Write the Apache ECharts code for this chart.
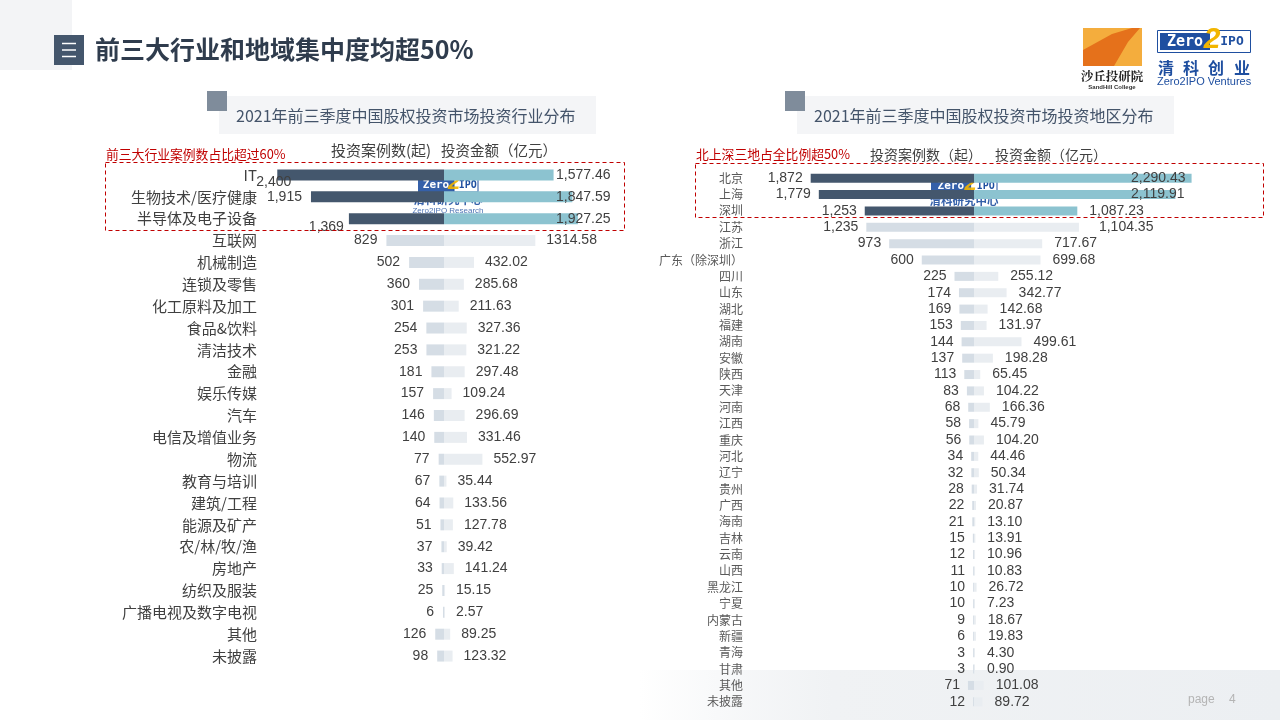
<!DOCTYPE html>
<html>
<head>
<meta charset="utf-8">
<script src="https://cdn.jsdelivr.net/npm/echarts@6/dist/echarts.min.js"></script>
<style>
html, body { margin: 0; padding: 0; background: #fff; }
#main { width: 1280px; height: 720px; }
</style>
</head>
<body>
<div id="main"></div>
<script>
// 行业分布（2021年前三季度）
const industries = ['IT', '生物技术/医疗健康', '半导体及电子设备', '互联网', '机械制造', '连锁及零售',
  '化工原料及加工', '食品&饮料', '清洁技术', '金融', '娱乐传媒', '汽车', '电信及增值业务', '物流',
  '教育与培训', '建筑/工程', '能源及矿产', '农/林/牧/渔', '房地产', '纺织及服装', '广播电视及数字电视',
  '其他', '未披露'];
const industryDeals = [2400, 1915, 1369, 829, 502, 360, 301, 254, 253, 181, 157, 146, 140, 77,
  67, 64, 51, 37, 33, 25, 6, 126, 98];
const industryAmounts = [1577.46, 1847.59, 1927.25, 1314.58, 432.02, 285.68, 211.63, 327.36, 321.22,
  297.48, 109.24, 296.69, 331.46, 552.97, 35.44, 133.56, 127.78, 39.42, 141.24, 15.15, 2.57, 89.25, 123.32];

// 地区分布
const regions = ['北京', '上海', '深圳', '江苏', '浙江', '广东（除深圳）', '四川', '山东', '湖北', '福建',
  '湖南', '安徽', '陕西', '天津', '河南', '江西', '重庆', '河北', '辽宁', '贵州', '广西', '海南', '吉林',
  '云南', '山西', '黑龙江', '宁夏', '内蒙古', '新疆', '青海', '甘肃', '其他', '未披露'];
const regionDeals = [1872, 1779, 1253, 1235, 973, 600, 225, 174, 169, 153, 144, 137, 113, 83, 68, 58,
  56, 34, 32, 28, 22, 21, 15, 12, 11, 10, 10, 9, 6, 3, 3, 71, 12];
const regionAmounts = [2290.43, 2119.91, 1087.23, 1104.35, 717.67, 699.68, 255.12, 342.77, 142.68,
  131.97, 499.61, 198.28, 65.45, 104.22, 166.36, 45.79, 104.20, 44.46, 50.34, 31.74, 20.87, 13.10,
  13.91, 10.96, 10.83, 26.72, 7.23, 18.67, 19.83, 4.30, 0.90, 101.08, 89.72];

const FONT = "'Liberation Sans', 'Noto Sans CJK SC', sans-serif";
const CJK = "'Noto Sans CJK SC', sans-serif";
const DARK = '#44576d', TEAL = '#8cc3d0', LIGHT = '#d5dde5', PALE = '#e9edf1';
const TXT = '#404040', RED = '#c00000', BLUE = '#1f4fa0';

function fmt(v, dec, comma) {
  v = Math.abs(v);
  if (!comma) return v.toFixed(dec);
  return v.toLocaleString('en-US', { minimumFractionDigits: dec, maximumFractionDigits: dec });
}

// 原图里个别数值标签位置有偏移，这里照着挪一下
const leftDealNudge = { 0: [23, 7], 2: [4, 8] };
const rightAmountNudge = { 3: [8, 0] };

const leftDealData = industryDeals.map((v, i) => {
  const d = { value: -v, itemStyle: { color: i < 3 ? DARK : LIGHT } };
  if (leftDealNudge[i]) d.label = { offset: leftDealNudge[i] };
  return d;
});
const leftAmountData = industryAmounts.map((v, i) => {
  const d = { value: v, itemStyle: { color: i < 3 ? TEAL : PALE } };
  if (i < 3) d.label = { position: [112, '50%'], align: 'left', verticalAlign: 'middle' };
  return d;
});
const rightDealData = regionDeals.map((v, i) => ({ value: -v, itemStyle: { color: i < 3 ? DARK : LIGHT } }));
const rightAmountData = regionAmounts.map((v, i) => {
  const d = { value: v, itemStyle: { color: i < 3 ? TEAL : PALE } };
  if (i < 2) d.label = { position: [157, '50%'], align: 'left', verticalAlign: 'middle' };
  if (rightAmountNudge[i]) d.label = { offset: rightAmountNudge[i] };
  return d;
});

function valueLabel(pos, dist, dec, commaFn) {
  return {
    show: true, position: pos, distance: dist,
    color: TXT, fontSize: 14, fontFamily: FONT,
    formatter: p => fmt(p.value, dec, commaFn(p.dataIndex))
  };
}

function hiddenX(grid, min, max) {
  return { type: 'value', gridIndex: grid, min: min, max: max, show: false };
}
function catY(grid, data, size, color) {
  return {
    type: 'category', gridIndex: grid, data: data, inverse: true,
    axisLine: { show: false, onZero: false }, axisTick: { show: false },
    axisLabel: { margin: 5, fontSize: size, color: color, fontFamily: CJK }
  };
}

// 清科研究中心 水印
function watermark(cx, top, w) {
  const half = w / 2;
  return {
    type: 'group', z: 100, children: [
      { type: 'rect', shape: { x: cx - half, y: top, width: w * 0.6, height: 15 }, style: { fill: BLUE, opacity: 0.9 } },
      { type: 'rect', shape: { x: cx - half + w * 0.6, y: top, width: w * 0.4, height: 15 }, style: { fill: 'rgba(255,255,255,0.85)', stroke: BLUE, lineWidth: 1 } },
      { type: 'text', x: cx - half + w * 0.3, y: top + 8, style: { text: 'Zero', fill: '#fff', fontSize: 11, fontWeight: 'bold', fontFamily: 'DejaVu Sans Mono', align: 'center', verticalAlign: 'middle' } },
      { type: 'text', x: cx + half - w * 0.17, y: top + 8, style: { text: 'IPO', fill: BLUE, fontSize: 10, fontWeight: 'bold', fontFamily: 'DejaVu Sans Mono', align: 'center', verticalAlign: 'middle' } },
      { type: 'text', x: cx - half + w * 0.6, y: top + 6, style: { text: '2', fill: '#f2b500', fontSize: 22, fontWeight: 'bold', fontStyle: 'italic', fontFamily: FONT, align: 'center', verticalAlign: 'middle', opacity: 0.9 } },
      { type: 'text', x: cx, y: top + 23, style: { text: '清科研究中心', fill: BLUE, fontSize: 11.5, fontWeight: 'bold', fontFamily: CJK, align: 'center', verticalAlign: 'middle', opacity: 0.9 } },
      { type: 'text', x: cx, y: top + 34, style: { text: 'Zero2IPO Research', fill: BLUE, fontSize: 8, fontFamily: FONT, align: 'center', verticalAlign: 'middle', opacity: 0.8 } }
    ]
  };
}

function txt(x, y, text, size, color, extra) {
  return {
    type: 'text', x: x, y: y, z: 10,
    style: Object.assign({ text: text, fontSize: size, fill: color, fontFamily: CJK, verticalAlign: 'middle' }, extra || {})
  };
}

const graphics = [
  // 页面背景装饰
  { type: 'rect', z: -10, shape: { x: 0, y: 0, width: 72, height: 70 }, style: { fill: '#f3f4f6' } },
  { type: 'rect', z: -10, shape: { x: 640, y: 670, width: 640, height: 50 },
    style: { fill: new echarts.graphic.LinearGradient(0, 0, 1, 0, [{ offset: 0, color: 'rgba(236,239,242,0)' }, { offset: 0.3, color: '#f0f2f4' }, { offset: 1, color: '#eceff2' }]) } },
  { type: 'rect', z: 5, shape: { x: 54, y: 35, width: 30, height: 30 }, style: { fill: '#44566c' } },
  { type: 'line', z: 6, shape: { x1: 62, y1: 43.5, x2: 76, y2: 43.5 }, style: { stroke: '#fff', lineWidth: 1.5 } },
  { type: 'line', z: 6, shape: { x1: 62, y1: 50, x2: 76, y2: 50 }, style: { stroke: '#fff', lineWidth: 1.5 } },
  { type: 'line', z: 6, shape: { x1: 62, y1: 56.5, x2: 76, y2: 56.5 }, style: { stroke: '#fff', lineWidth: 1.5 } },
  txt(95, 49, '前三大行业和地域集中度均超50%', 25, '#2f3c4d', { fontWeight: 'bold' }),

  // 小标题
  { type: 'rect', z: -5, shape: { x: 219, y: 96, width: 377, height: 38 }, style: { fill: '#f4f5f7' } },
  { type: 'rect', z: -4, shape: { x: 207, y: 91, width: 20, height: 20 }, style: { fill: '#7f8c9b' } },
  txt(236, 116, '2021年前三季度中国股权投资市场投资行业分布', 16, '#44546a'),
  { type: 'rect', z: -5, shape: { x: 797, y: 96, width: 377, height: 38 }, style: { fill: '#f4f5f7' } },
  { type: 'rect', z: -4, shape: { x: 785, y: 91, width: 20, height: 20 }, style: { fill: '#7f8c9b' } },
  txt(814, 116, '2021年前三季度中国股权投资市场投资地区分布', 16, '#44546a'),

  // 红色提示与虚线框
  txt(106, 154, '前三大行业案例数占比超过60%', 12.8, RED),
  { type: 'rect', z: 20, shape: { x: 105.5, y: 162.5, width: 519, height: 68 }, style: { fill: 'none', stroke: RED, lineWidth: 1, lineDash: [4, 3] } },
  txt(696, 154, '北上深三地占全比例超50%', 12.8, RED),
  { type: 'rect', z: 20, shape: { x: 695.5, y: 163.5, width: 568, height: 54 }, style: { fill: 'none', stroke: RED, lineWidth: 1, lineDash: [4, 3] } },

  // 列标题
  txt(331, 150, '投资案例数(起)', 15, TXT),
  txt(441, 150, '投资金额（亿元）', 14.5, TXT),
  txt(870, 155, '投资案例数（起）', 14, TXT),
  txt(995, 155, '投资金额（亿元）', 14, TXT),

  watermark(448, 177, 60),
  watermark(964, 178, 66),

  // 右上角 logo
  { type: 'rect', z: 5, shape: { x: 1083, y: 28, width: 59, height: 38 }, style: { fill: '#f4ad3d' } },
  { type: 'polygon', z: 6, shape: { points: [[1083, 50], [1112, 34], [1132, 28], [1140, 28], [1128, 42], [1114, 66], [1083, 66]] }, style: { fill: '#e5711b' } },
  txt(1112, 76, '沙丘投研院', 12.5, '#222', { fontWeight: 'bold', align: 'center', fontFamily: "'Noto Serif CJK SC', 'Noto Sans CJK SC', serif" }),
  txt(1112, 87, 'SandHill College', 6, '#333', { fontWeight: 'bold', align: 'center', fontFamily: FONT }),
  { type: 'rect', z: 5, shape: { x: 1157.5, y: 30.5, width: 93, height: 22 }, style: { fill: '#fff', stroke: BLUE, lineWidth: 1 } },
  { type: 'rect', z: 5, shape: { x: 1160, y: 33, width: 50, height: 17 }, style: { fill: BLUE } },
  txt(1185, 42, 'Zero', 15, '#fff', { fontWeight: 'bold', align: 'center', fontFamily: 'DejaVu Sans Mono' }),
  txt(1232, 42, 'IPO', 13, BLUE, { fontWeight: 'bold', align: 'center', fontFamily: 'DejaVu Sans Mono' }),
  txt(1212, 40, '2', 30, '#f2b500', { fontWeight: 'bold', fontStyle: 'italic', align: 'center', fontFamily: FONT }),
  txt(1158, 68, '清', 16, BLUE, { fontWeight: 'bold' }),
  txt(1183, 68, '科', 16, BLUE, { fontWeight: 'bold' }),
  txt(1208, 68, '创', 16, BLUE, { fontWeight: 'bold' }),
  txt(1234, 68, '业', 16, BLUE, { fontWeight: 'bold' }),
  txt(1157, 82, 'Zero2IPO Ventures', 11, BLUE, { fontFamily: FONT }),

  // 页码
  txt(1188, 700, 'page', 12, '#b4b4b4', { fontFamily: FONT }),
  txt(1229, 700, '4', 12, '#b4b4b4', { fontFamily: FONT })
];

const chart = echarts.init(document.getElementById('main'));
chart.setOption({
  backgroundColor: '#fff',
  animation: false,
  grid: [
    { left: 262, top: 164, width: 364, height: 503 },
    { left: 748, top: 170, width: 482, height: 540 }
  ],
  xAxis: [
    hiddenX(0, -2620, 2620),
    hiddenX(1, -2590, 2930),
    hiddenX(1, -2380, 2695)
  ],
  yAxis: [
    catY(0, industries, 15, TXT),
    catY(1, regions, 12, '#595959')
  ],
  series: [
    {
      name: '投资案例数', type: 'bar', xAxisIndex: 0, yAxisIndex: 0,
      barWidth: 11, barGap: '-100%', barMinHeight: 1,
      data: leftDealData,
      label: valueLabel('left', 9, 0, i => i < 3)
    },
    {
      name: '投资金额', type: 'bar', xAxisIndex: 0, yAxisIndex: 0,
      barWidth: 11, barGap: '-100%', barMinHeight: 1,
      data: leftAmountData,
      label: valueLabel('right', 11, 2, i => i < 3)
    },
    {
      name: '投资案例数', type: 'bar', xAxisIndex: 1, yAxisIndex: 1,
      barWidth: 9, barGap: '-100%', barMinHeight: 1,
      data: rightDealData,
      label: valueLabel('left', 8, 0, () => true)
    },
    {
      name: '投资金额', type: 'bar', xAxisIndex: 2, yAxisIndex: 1,
      barWidth: 9, barGap: '-100%', barMinHeight: 1,
      data: rightAmountData,
      label: valueLabel('right', 12, 2, () => true)
    }
  ],
  graphic: { elements: graphics }
});
</script>
</body>
</html>
